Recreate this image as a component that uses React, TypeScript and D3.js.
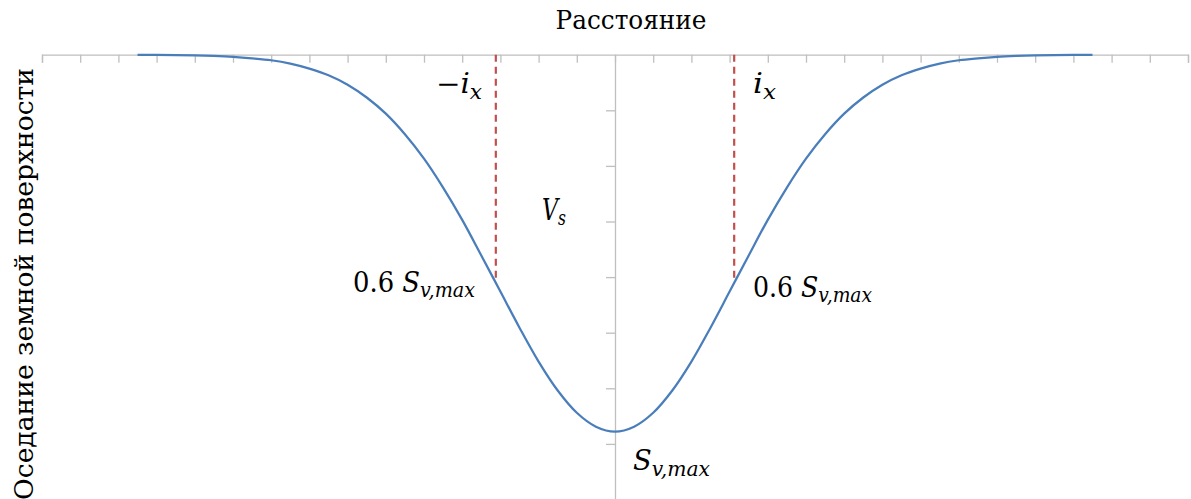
import React, { useEffect, useRef } from "react";
import * as d3 from "d3";

// Distance (tick units) and surface settlement (negative = downward)
const distance = [
  -12.5, -12, -11.5, -11, -10.5, -10, -9.5, -9, -8.5, -8, -7.5, -7, -6.5, -6, -5.5, -5, -4.5, -4, -3.5, -3, -2.5, -2, -1.5, -1, -0.5,
  0, 0.5, 1, 1.5, 2, 2.5, 3, 3.5, 4, 4.5, 5, 5.5, 6, 6.5, 7, 7.5, 8, 8.5, 9, 9.5, 10, 10.5, 11, 11.5, 12, 12.5,
];
const settlement = [
  -0.002, -0.004, -0.007, -0.013, -0.023, -0.039, -0.065, -0.1, -0.16, -0.25, -0.37, -0.54, -0.77, -1.06, -1.43, -1.87, -2.39, -2.97, -3.61, -4.26, -4.91, -5.52, -6.04, -6.44, -6.69,
  -6.78, -6.69, -6.44, -6.04, -5.52, -4.91, -4.26, -3.61, -2.97, -2.39, -1.87, -1.43, -1.06, -0.77, -0.54, -0.37, -0.25, -0.16, -0.1, -0.065, -0.039, -0.023, -0.013, -0.007, -0.004, -0.002,
];
// Inflection points ±i_x and the settlement there
const inflectionX = [-3.12, 3.12];
const inflectionS = -4.05;

const xDomain = [-15, 15];
const yDomain = [0, -8];
const xTicks = d3.range(-15, 15.01, 1);
const yTicks = d3.range(0, -8.01, -1);

const xLabel = "Расстояние";
const yLabel = "Оседание земной поверхности";

export default function App() {
  const axRef = useRef<SVGGElement>(null);
  const ayRef = useRef<SVGGElement>(null);

  const W = 1191;
  const H = 499;
  const x = d3.scaleLinear().domain(xDomain).range([42, 1188]);
  const y = d3.scaleLinear().domain(yDomain).range([54.7, 499.5]);

  useEffect(() => {
    if (axRef.current) {
      const g = d3.select(axRef.current);
      g.selectAll("*").remove();
      g.call(
        d3
          .axisBottom(x)
          .tickValues(xTicks)
          .tickSize(8)
          .tickSizeOuter(8)
          .tickFormat(() => "")
      );
      g.selectAll("path,line").attr("stroke", "#bfbfbf").attr("stroke-width", 1.3);
    }
    if (ayRef.current) {
      const g = d3.select(ayRef.current);
      g.selectAll("*").remove();
      g.call(
        d3
          .axisLeft(y)
          .tickValues(yTicks.slice(1))
          .tickSize(9)
          .tickSizeOuter(0)
          .tickFormat(() => "")
      );
      g.selectAll("path,line").attr("stroke", "#bfbfbf").attr("stroke-width", 1.3);
    }
  }, []);

  const pts = distance.map((d, i) => [d, settlement[i]] as [number, number]);
  const line = d3
    .line<[number, number]>()
    .x((d) => x(d[0]))
    .y((d) => y(d[1]))
    .curve(d3.curveCatmullRom.alpha(0.5));

  const mathFont = "'DejaVu Serif', serif";
  const big = 27;
  const sub = 20;

  return (
    <svg width={W} height={H} style={{ position: "absolute", left: 0, top: 0 }}>
      <rect width={W} height={H} fill="#fff" />
      <g ref={axRef} transform={`translate(0,${y(0)})`} />
      <g ref={ayRef} transform={`translate(${x(0)},0)`} />
      {inflectionX.map((ix, i) => (
        <line
          key={i}
          x1={x(ix)}
          x2={x(ix)}
          y1={y(0)}
          y2={y(inflectionS)}
          stroke="#c0504d"
          strokeWidth={2.2}
          strokeDasharray="7,5"
        />
      ))}
      <path d={line(pts) || ""} fill="none" stroke="#4a7ebb" strokeWidth={2.25} />

      <text x={631} y={29} fontFamily={mathFont} fontSize={26} textAnchor="middle" textLength={151} lengthAdjust="spacingAndGlyphs" fill="#000">
        {xLabel}
      </text>
      <text
        transform="translate(33,284) rotate(-90)"
        fontFamily={mathFont}
        fontSize={26}
        textAnchor="middle"
        textLength={432}
        lengthAdjust="spacingAndGlyphs"
        fill="#000"
      >
        {yLabel}
      </text>

      <text x={436} y={93} fontFamily={mathFont} fontSize={big} fill="#000" textLength={46} lengthAdjust="spacingAndGlyphs">
        <tspan>−</tspan>
        <tspan fontStyle="italic">i</tspan>
        <tspan fontStyle="italic" fontSize={sub} dy={6}>x</tspan>
      </text>
      <text x={753} y={93} fontFamily={mathFont} fontSize={big} fill="#000" textLength={23} lengthAdjust="spacingAndGlyphs">
        <tspan fontStyle="italic">i</tspan>
        <tspan fontStyle="italic" fontSize={sub} dy={6}>x</tspan>
      </text>
      <text x={542} y={220} fontFamily={mathFont} fontSize={29} fill="#000" textLength={24} lengthAdjust="spacingAndGlyphs">
        <tspan fontStyle="italic">V</tspan>
        <tspan fontStyle="italic" fontSize={sub} dy={5}>s</tspan>
      </text>
      <text x={353} y={292} fontFamily={mathFont} fontSize={big} fill="#000" textLength={122} lengthAdjust="spacingAndGlyphs">
        <tspan>0.6 </tspan>
        <tspan fontStyle="italic">S</tspan>
        <tspan fontStyle="italic" fontSize={sub} dy={5}>v,max</tspan>
      </text>
      <text x={753} y={297} fontFamily={mathFont} fontSize={big} fill="#000" textLength={119} lengthAdjust="spacingAndGlyphs">
        <tspan>0.6 </tspan>
        <tspan fontStyle="italic">S</tspan>
        <tspan fontStyle="italic" fontSize={sub} dy={5}>v,max</tspan>
      </text>
      <text x={633} y={470} fontFamily={mathFont} fontSize={big} fill="#000" textLength={77} lengthAdjust="spacingAndGlyphs">
        <tspan fontStyle="italic">S</tspan>
        <tspan fontStyle="italic" fontSize={sub} dy={6}>v,max</tspan>
      </text>
    </svg>
  );
}
